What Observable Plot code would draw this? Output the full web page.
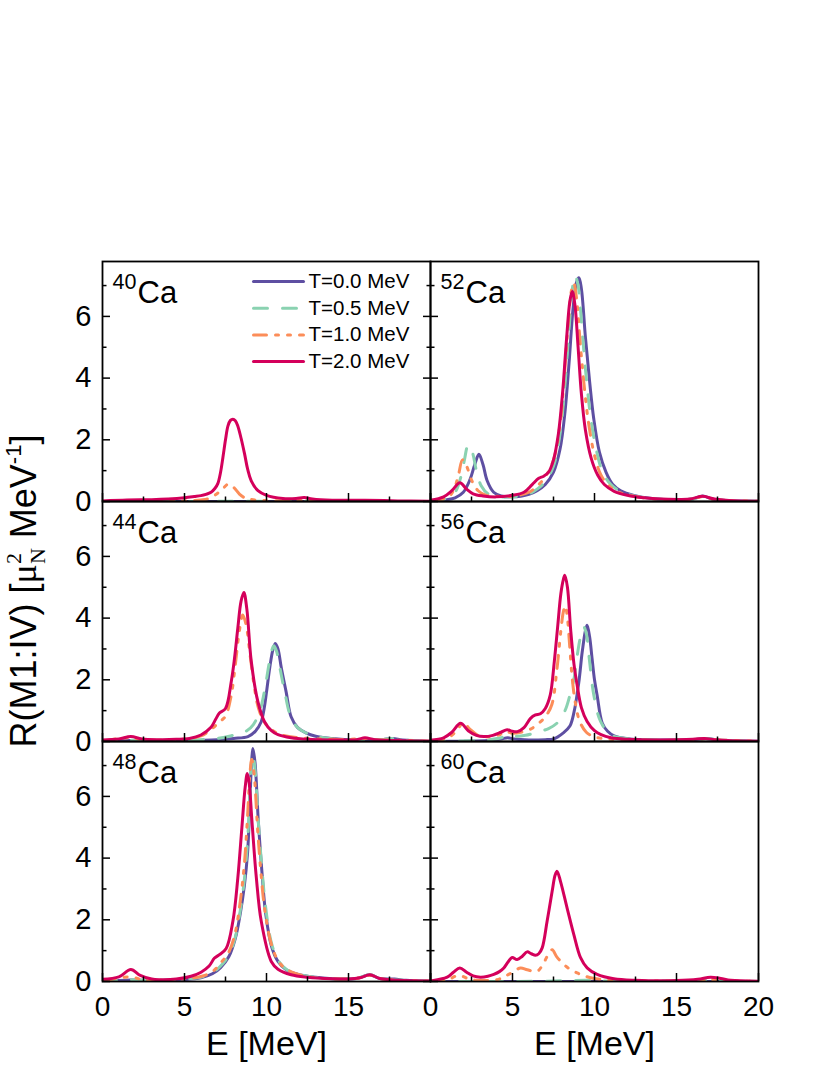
<!DOCTYPE html>
<html>
<head>
<meta charset="utf-8">
<script src="https://cdn.jsdelivr.net/npm/d3@7"></script>
<script src="https://cdn.jsdelivr.net/npm/@observablehq/plot@0.6"></script>
<style>
html, body { margin: 0; padding: 0; background: #fff; }
#chart { width: 830px; height: 1075px; }
</style>
</head>
<body>
<div id="chart"></div>
<script>
// ---------- categories ----------
const nuclei = ["40Ca", "52Ca", "44Ca", "56Ca", "48Ca", "60Ca"];
const massNumbers = ["40", "52", "44", "56", "48", "60"];
const elementSymbol = "Ca";
const panelColumn = [0, 1, 0, 1, 0, 1];
const panelRow = [0, 0, 1, 1, 2, 2];
const temperatures = ["T=0.0 MeV", "T=0.5 MeV", "T=1.0 MeV", "T=2.0 MeV"];

// ---------- tick values ----------
const xMajorTicks = [0, 5, 10, 15, 20];
const xMinorTicks = [2.5, 7.5, 12.5, 17.5];
const xTickLabels = [0, 5, 10, 15];
const xLastLabel = [20];
const yMajorTicks = [0, 2, 4, 6];
const yMinorTicks = [1, 3, 5, 7];
const xTitle = "E [MeV]";

// ---------- series values: [E (MeV), R] ----------
const ca40_T00 = [[0,0],[5,0],[10,0],[15,0],[20,0]];
const ca40_T05 = [[0,0],[5,0],[10,0.01],[15,0],[20,0]];
const ca40_T10 = [[0,0],[3,0.01],[5,0.02],[6,0.05],[6.5,0.1],[7.1,0.3],[7.4,0.45],[7.64,0.56],[7.85,0.52],[8.05,0.43],[8.35,0.24],[8.6,0.14],[8.9,0.08],[9.9,0.03],[12.3,0.03],[14,0.01],[20,0]];
const ca40_T20 = [[0,0.02],[1.5,0.05],[3,0.06],[4,0.08],[5,0.12],[5.6,0.16],[6.0,0.19],[6.3,0.23],[6.62,0.3],[6.85,0.42],[7.03,0.58],[7.2,0.95],[7.34,1.42],[7.5,2.0],[7.65,2.45],[7.8,2.63],[7.95,2.67],[8.1,2.62],[8.25,2.45],[8.45,2.05],[8.66,1.55],[8.85,1.05],[9.07,0.67],[9.48,0.35],[10,0.2],[11,0.1],[11.8,0.1],[12.3,0.13],[12.8,0.08],[14,0.04],[16,0.04],[18,0.02],[20,0.01]];

const ca52_T00 = [[0,0.02],[1,0.06],[1.5,0.12],[2.0,0.3],[2.4,0.7],[2.7,1.2],[2.95,1.53],[3.2,1.2],[3.45,0.68],[3.85,0.3],[4.3,0.18],[5,0.15],[5.5,0.17],[6,0.23],[6.5,0.35],[7,0.55],[7.5,0.95],[7.9,1.7],[8.2,2.9],[8.45,4.5],[8.7,6.3],[8.9,7.1],[9.05,7.25],[9.2,6.9],[9.45,5.3],[9.7,3.9],[9.95,2.7],[10.3,1.6],[10.7,0.95],[11.1,0.56],[11.6,0.35],[12.4,0.2],[13.5,0.1],[15,0.06],[16,0.08],[16.6,0.18],[17.2,0.08],[18,0.03],[20,0.01]];
const ca52_T05 = [[0,0.03],[1,0.1],[1.5,0.3],[1.8,0.7],[2.05,1.3],[2.3,1.83],[2.55,1.6],[2.8,1.0],[3.1,0.5],[3.5,0.25],[4,0.17],[5,0.15],[6,0.25],[6.5,0.4],[7,0.65],[7.5,1.15],[7.9,2.2],[8.2,3.8],[8.45,5.6],[8.65,6.9],[8.82,7.32],[9.0,7.0],[9.25,5.5],[9.5,4.0],[9.75,2.8],[10.1,1.7],[10.5,0.95],[11,0.55],[11.6,0.33],[12.4,0.18],[13.5,0.09],[15,0.06],[16,0.08],[16.6,0.17],[17.2,0.08],[18,0.03],[20,0.01]];
const ca52_T10 = [[0,0.03],[1,0.12],[1.4,0.35],[1.7,0.85],[1.95,1.35],[2.2,1.15],[2.5,0.7],[2.9,0.35],[3.4,0.2],[4,0.17],[5,0.17],[6,0.3],[6.5,0.5],[7,0.8],[7.5,1.35],[7.9,2.5],[8.15,4.0],[8.4,5.8],[8.6,6.85],[8.74,7.07],[8.9,6.6],[9.15,5.0],[9.4,3.6],[9.65,2.5],[10,1.5],[10.4,0.85],[10.9,0.5],[11.5,0.3],[12.4,0.17],[13.5,0.09],[15,0.06],[16,0.08],[16.6,0.16],[17.2,0.08],[18,0.03],[20,0.01]];
const ca52_T20 = [[0,0.04],[0.8,0.15],[1.3,0.35],[1.79,0.61],[2.2,0.4],[2.6,0.25],[3.2,0.18],[4,0.15],[5,0.2],[5.7,0.3],[6.2,0.55],[6.6,0.75],[6.9,0.82],[7.2,0.95],[7.5,1.35],[7.8,2.2],[8.05,3.5],[8.3,5.3],[8.5,6.5],[8.64,6.81],[8.8,6.4],[9.0,5.0],[9.2,3.5],[9.45,2.3],[9.8,1.4],[10.2,0.85],[10.6,0.55],[11.2,0.33],[12,0.2],[13,0.12],[14.5,0.07],[15.8,0.08],[16.6,0.17],[17.3,0.08],[18.2,0.03],[20,0.01]];

const ca44_T00 = [[0,0],[1.7,0.03],[3,0.02],[5,0.03],[7,0.06],[8,0.1],[8.87,0.16],[9.3,0.32],[9.68,0.64],[9.85,1.05],[10.0,1.6],[10.2,2.4],[10.4,3.0],[10.54,3.18],[10.7,3.0],[10.9,2.4],[11.2,1.6],[11.5,0.8],[11.9,0.45],[12.4,0.28],[13,0.17],[14,0.1],[15,0.06],[16,0.06],[17,0.06],[17.7,0.1],[18.3,0.05],[20,0.01]];
const ca44_T05 = [[0,0],[1.7,0.04],[3,0.02],[5,0.04],[7,0.1],[7.8,0.18],[8.3,0.25],[8.8,0.35],[9.2,0.55],[9.6,1.0],[9.9,1.7],[10.15,2.5],[10.35,3.0],[10.45,3.1],[10.6,2.95],[10.85,2.3],[11.15,1.5],[11.45,0.85],[11.9,0.45],[12.4,0.28],[13,0.17],[14,0.09],[15,0.06],[16,0.06],[17,0.06],[17.7,0.1],[18.3,0.05],[20,0.01]];
const ca44_T10 = [[0,0.02],[1.7,0.12],[2.5,0.05],[4,0.05],[5,0.08],[6,0.18],[6.6,0.38],[7.1,0.62],[7.5,0.82],[7.85,1.5],[8.1,2.5],[8.35,3.6],[8.55,4.1],[8.75,3.8],[9.0,2.8],[9.25,1.8],[9.5,1.1],[9.9,0.6],[10.4,0.35],[11,0.2],[12,0.12],[14,0.07],[15.5,0.08],[16,0.1],[16.6,0.06],[18,0.04],[20,0.01]];
const ca44_T20 = [[0,0.05],[1.0,0.08],[1.73,0.16],[2.4,0.08],[3.5,0.06],[4.5,0.07],[5.3,0.1],[6.0,0.21],[6.6,0.45],[6.9,0.72],[7.13,0.92],[7.5,1.07],[7.85,1.94],[8.05,2.7],[8.25,3.67],[8.45,4.55],[8.62,4.83],[8.8,4.3],[9.07,2.6],[9.47,1.3],[9.88,0.64],[10.3,0.35],[10.7,0.22],[11.5,0.12],[12.5,0.07],[14,0.05],[15.5,0.06],[16.0,0.12],[16.6,0.06],[18,0.03],[20,0.01]];

const ca56_T00 = [[0,0],[2,0.01],[3.5,0.03],[4.3,0.08],[4.7,0.12],[5.1,0.08],[6,0.05],[7,0.06],[7.5,0.08],[8.1,0.28],[8.5,0.5],[8.75,0.95],[9.04,1.9],[9.25,2.9],[9.45,3.6],[9.55,3.77],[9.7,3.4],[9.85,2.7],[10.0,2.0],[10.16,1.5],[10.47,0.6],[10.8,0.33],[11.2,0.18],[12,0.09],[14,0.05],[16,0.06],[16.8,0.1],[17.6,0.05],[20,0.01]];
const ca56_T05 = [[0,0],[2,0.02],[3.5,0.05],[4.3,0.12],[4.75,0.22],[5.2,0.17],[5.8,0.2],[6.5,0.3],[7.2,0.42],[7.72,0.6],[8.2,1.0],[8.5,1.5],[8.74,2.0],[8.95,2.8],[9.15,3.4],[9.35,3.71],[9.5,3.5],[9.7,2.6],[9.96,1.5],[10.37,0.65],[10.98,0.22],[11.6,0.12],[12.5,0.08],[14,0.05],[16,0.06],[16.8,0.1],[17.6,0.05],[20,0.01]];
const ca56_T10 = [[0,0.03],[1,0.1],[1.6,0.35],[2.0,0.62],[2.4,0.4],[2.9,0.2],[3.5,0.15],[4.2,0.22],[4.6,0.32],[5.0,0.27],[5.5,0.3],[6.1,0.4],[6.5,0.55],[7.0,0.8],[7.4,1.2],[7.7,2.3],[7.95,3.6],[8.1,4.2],[8.22,4.4],[8.35,4.0],[8.5,3.0],[8.65,2.0],[8.85,1.2],[9.1,0.65],[9.5,0.3],[10,0.15],[11,0.07],[13,0.04],[16,0.05],[16.8,0.09],[17.6,0.05],[20,0.01]];
const ca56_T20 = [[0,0.04],[0.8,0.12],[1.3,0.3],[1.83,0.59],[2.3,0.35],[2.8,0.2],[3.25,0.16],[3.8,0.2],[4.3,0.3],[4.67,0.38],[5.0,0.33],[5.3,0.32],[5.7,0.45],[6.1,0.75],[6.4,0.86],[6.7,0.9],[7.0,1.07],[7.3,1.5],[7.55,2.6],[7.75,3.7],[7.95,4.8],[8.1,5.25],[8.19,5.39],[8.35,5.0],[8.55,3.6],[8.75,2.5],[8.94,1.83],[9.2,1.1],[9.55,0.65],[10.0,0.35],[10.4,0.22],[11,0.12],[12,0.07],[14,0.05],[16,0.07],[16.7,0.1],[17.5,0.05],[20,0.01]];

const ca48_T00 = [[0,0],[1.7,0.05],[3,0.03],[5,0.06],[6,0.12],[6.7,0.25],[7.2,0.45],[7.7,0.8],[8.1,1.4],[8.4,2.2],[8.65,3.1],[8.85,4.2],[9.0,6.0],[9.1,7.2],[9.17,7.55],[9.3,7.1],[9.5,5.2],[9.7,3.7],[9.95,2.2],[10.3,1.15],[10.7,0.65],[11.2,0.38],[12,0.22],[13,0.14],[14.5,0.08],[15.5,0.1],[16.3,0.22],[16.9,0.1],[17.8,0.08],[18.5,0.04],[20,0.01]];
const ca48_T05 = [[0,0],[1.7,0.06],[3,0.04],[5,0.08],[6,0.14],[6.7,0.28],[7.2,0.5],[7.7,0.85],[8.1,1.45],[8.4,2.3],[8.65,3.3],[8.85,4.6],[9.0,6.2],[9.08,7.1],[9.15,7.4],[9.28,7.0],[9.5,5.2],[9.7,3.8],[9.95,2.4],[10.3,1.25],[10.7,0.7],[11.2,0.4],[12,0.23],[13,0.13],[14.5,0.08],[15.5,0.1],[16.3,0.22],[16.9,0.1],[18,0.05],[20,0.01]];
const ca48_T10 = [[0,0.01],[1.7,0.15],[2.5,0.05],[4,0.05],[5,0.09],[6,0.16],[6.7,0.32],[7.2,0.6],[7.7,0.95],[8.1,1.6],[8.4,2.6],[8.65,3.8],[8.85,5.4],[9.0,6.8],[9.1,7.2],[9.25,6.7],[9.45,5.0],[9.65,3.6],[9.9,2.3],[10.3,1.2],[10.7,0.68],[11.2,0.4],[12,0.22],[13,0.12],[14.5,0.08],[15.5,0.1],[16.3,0.2],[16.9,0.1],[18,0.04],[20,0.01]];
const ca48_T20 = [[0,0.07],[1.0,0.15],[1.73,0.39],[2.3,0.2],[3.0,0.08],[3.5,0.06],[4.5,0.08],[5.4,0.17],[6.01,0.3],[6.5,0.5],[6.83,0.76],[7.13,0.87],[7.54,1.07],[7.95,1.95],[8.25,3.35],[8.5,5.0],[8.7,6.3],[8.83,6.74],[8.95,6.4],[9.1,5.3],[9.25,4.2],[9.38,3.37],[9.68,1.95],[10.29,0.65],[10.7,0.4],[11.5,0.22],[12.5,0.14],[14,0.09],[15,0.08],[15.7,0.12],[16.3,0.22],[16.9,0.1],[18,0.04],[20,0.02]];

const ca60_T00 = [[0,0],[5,0],[10,0],[15,0],[20,0]];
const ca60_T05 = [[0,0],[7,0.01],[8.5,0.03],[9.5,0.04],[10.5,0.02],[13,0.01],[17,0.03],[20,0]];
const ca60_T10 = [[0,0.01],[1.0,0.05],[1.73,0.2],[2.4,0.07],[3.2,0.03],[4.07,0.06],[4.5,0.15],[4.77,0.23],[5.1,0.33],[5.49,0.44],[5.9,0.38],[6.5,0.33],[6.9,0.6],[7.2,0.9],[7.42,1.03],[7.7,0.8],[8.13,0.55],[8.5,0.4],[8.94,0.28],[9.4,0.18],[9.76,0.12],[10.5,0.06],[11.5,0.03],[14,0.02],[16.5,0.03],[17.1,0.06],[17.7,0.03],[20,0]];
const ca60_T20 = [[0,0.02],[1.02,0.14],[1.4,0.3],[1.79,0.44],[2.2,0.3],[2.6,0.18],[3.05,0.14],[3.5,0.17],[3.86,0.23],[4.2,0.32],[4.47,0.44],[4.75,0.65],[4.98,0.78],[5.28,0.71],[5.6,0.82],[5.89,0.96],[6.15,0.9],[6.4,0.85],[6.6,0.9],[6.81,1.09],[7.11,1.95],[7.42,2.93],[7.6,3.45],[7.72,3.57],[7.93,3.24],[8.33,2.38],[8.74,1.52],[9.15,0.77],[9.55,0.44],[10.16,0.23],[11.18,0.09],[12.5,0.04],[15,0.03],[16.3,0.07],[17.07,0.14],[17.7,0.1],[18.3,0.04],[20,0.01]];

const seriesByNucleus = [
  [ca40_T00, ca40_T05, ca40_T10, ca40_T20],
  [ca52_T00, ca52_T05, ca52_T10, ca52_T20],
  [ca44_T00, ca44_T05, ca44_T10, ca44_T20],
  [ca56_T00, ca56_T05, ca56_T10, ca56_T20],
  [ca48_T00, ca48_T05, ca48_T10, ca48_T20],
  [ca60_T00, ca60_T05, ca60_T10, ca60_T20]
];

// ---------- styles ----------
const colors = ["#5e4fa2", "#8ad2b1", "#fc8d59", "#d4005b"];
const dashes = [null, "14,15", "13,9,3,9,3,9", null];
const fontSans = "'Liberation Sans', Arial, Helvetica, sans-serif";
const fontSerif = "'Liberation Serif', 'Times New Roman', serif";

// ---------- tables ----------
const rows = [];
nuclei.forEach((nuc, p) => {
  seriesByNucleus[p].forEach((pts, k) => {
    pts.forEach(([E, R]) => rows.push({nucleus: nuc, col: panelColumn[p], row: panelRow[p], T: temperatures[k], E, R}));
  });
});
const labelRows = nuclei.map((nuc, p) => ({nucleus: nuc, mass: massNumbers[p], symbol: elementSymbol, col: panelColumn[p], row: panelRow[p]}));
const firstPanel = [{col: panelColumn[0], row: panelRow[0]}];
const bottomRow = Math.max(...panelRow);
const lastCol = Math.max(...panelColumn);
const xTitleRows = [...new Set(panelColumn)].map(c => ({col: c, row: bottomRow, text: xTitle}));
const xLastRows = xLastLabel.map(E => ({col: lastCol, row: bottomRow, E}));

const legendShape = {draw(context, l) { context.moveTo(0, 0); context.lineTo(l, 0); }};

const lineMarks = temperatures.map((t, k) => Plot.line(rows.filter(d => d.T === t), {
  fx: "col", fy: "row", x: "E", y: "R",
  stroke: colors[k], strokeWidth: 3, strokeDasharray: dashes[k],
  curve: "catmull-rom", clip: true
}));

const legendMarks = temperatures.flatMap((t, k) => [
  Plot.vector(firstPanel, {
    fx: "col", fy: "row", frameAnchor: "top-left", dx: 151, dy: 20 + k * 26.7,
    length: 50, rotate: 0, anchor: "start", shape: legendShape,
    stroke: colors[k], strokeWidth: 3, strokeDasharray: dashes[k]
  }),
  Plot.text(firstPanel, {
    fx: "col", fy: "row", frameAnchor: "top-left", dx: 206, dy: 20 + k * 26.7,
    text: () => t, textAnchor: "start", lineAnchor: "middle", fontSize: 20.5, fill: "black"
  })
]);

const chart = Plot.plot({
  width: 830,
  height: 1075,
  marginLeft: 102,
  marginRight: 72,
  marginTop: 260,
  marginBottom: 93,
  style: {fontFamily: fontSans, color: "black", background: "white", overflow: "visible"},
  fx: {domain: [0, 1], padding: 0, axis: null},
  fy: {domain: [0, 1, 2], padding: 0, axis: null},
  x: {domain: [0, 20], axis: null},
  y: {domain: [0, 7.78], axis: null},
  marks: [
    ...lineMarks,
    Plot.frame({stroke: "black", strokeWidth: 1.8}),
    // inward ticks
    Plot.axisX({ticks: xMajorTicks, tickSize: -8, fill: "none", label: null, facetAnchor: null, strokeWidth: 1.5}),
    Plot.axisX({ticks: xMinorTicks, tickSize: -4.5, fill: "none", label: null, facetAnchor: null, strokeWidth: 1.5}),
    Plot.axisY({ticks: yMajorTicks, tickSize: -8, fill: "none", label: null, facetAnchor: null, strokeWidth: 1.5}),
    Plot.axisY({ticks: yMinorTicks, tickSize: -4.5, fill: "none", label: null, facetAnchor: null, strokeWidth: 1.5}),
    Plot.axisY({ticks: yMajorTicks, anchor: "right", tickSize: -8, fill: "none", label: null, facetAnchor: "left", strokeWidth: 1.5}),
    Plot.axisY({ticks: yMinorTicks, anchor: "right", tickSize: -4.5, fill: "none", label: null, facetAnchor: "left", strokeWidth: 1.5}),
    // tick labels
    Plot.axisX({ticks: xTickLabels, tickSize: 0, tickPadding: 15, fontSize: 28, label: null}),
    Plot.text(xLastRows, {fx: "col", fy: "row", x: "E", frameAnchor: "bottom", dy: 15, lineAnchor: "top", text: d => String(d.E), fontSize: 28, fill: "black"}),
    Plot.axisY({ticks: yMajorTicks, tickSize: 0, tickPadding: 11, fontSize: 29, label: null}),
    // axis titles
    Plot.text(xTitleRows, {fx: "col", fy: "row", frameAnchor: "bottom", dy: 73, lineAnchor: "bottom", text: "text", fontSize: 34, fill: "black"}),
    // panel labels
    Plot.text(labelRows, {fx: "col", fy: "row", frameAnchor: "top-left", dx: 10, dy: 27, lineAnchor: "bottom", textAnchor: "start", text: "mass", fontSize: 21.5, fill: "black"}),
    Plot.text(labelRows, {fx: "col", fy: "row", frameAnchor: "top-left", dx: 35, dy: 41, lineAnchor: "bottom", textAnchor: "start", text: "symbol", fontSize: 31, fill: "black"}),
    ...legendMarks
  ]
});

document.getElementById("chart").appendChild(chart);

// y-axis title with stacked sub/superscript
const svg = d3.select(chart.tagName.toLowerCase() === "svg" ? chart : chart.querySelector("svg"));
const yTitle = svg.append("text")
  .attr("transform", "translate(36,591) rotate(-90)")
  .attr("text-anchor", "middle")
  .attr("font-family", fontSans)
  .attr("font-size", 36)
  .attr("fill", "black");
yTitle.append("tspan").text("R(M1:IV) [");
yTitle.append("tspan").attr("font-family", fontSerif).text("μ");
yTitle.append("tspan").attr("font-family", fontSerif).attr("font-size", 22).attr("dy", -15).text("2");
yTitle.append("tspan").attr("font-family", fontSerif).attr("font-size", 22).attr("dx", -11).attr("dy", 24).text("N");
yTitle.append("tspan").attr("dy", -9).text(" MeV");
yTitle.append("tspan").attr("font-size", 22).attr("dy", -15).text("-1");
yTitle.append("tspan").attr("dy", 15).text("]");
</script>
</body>
</html>
